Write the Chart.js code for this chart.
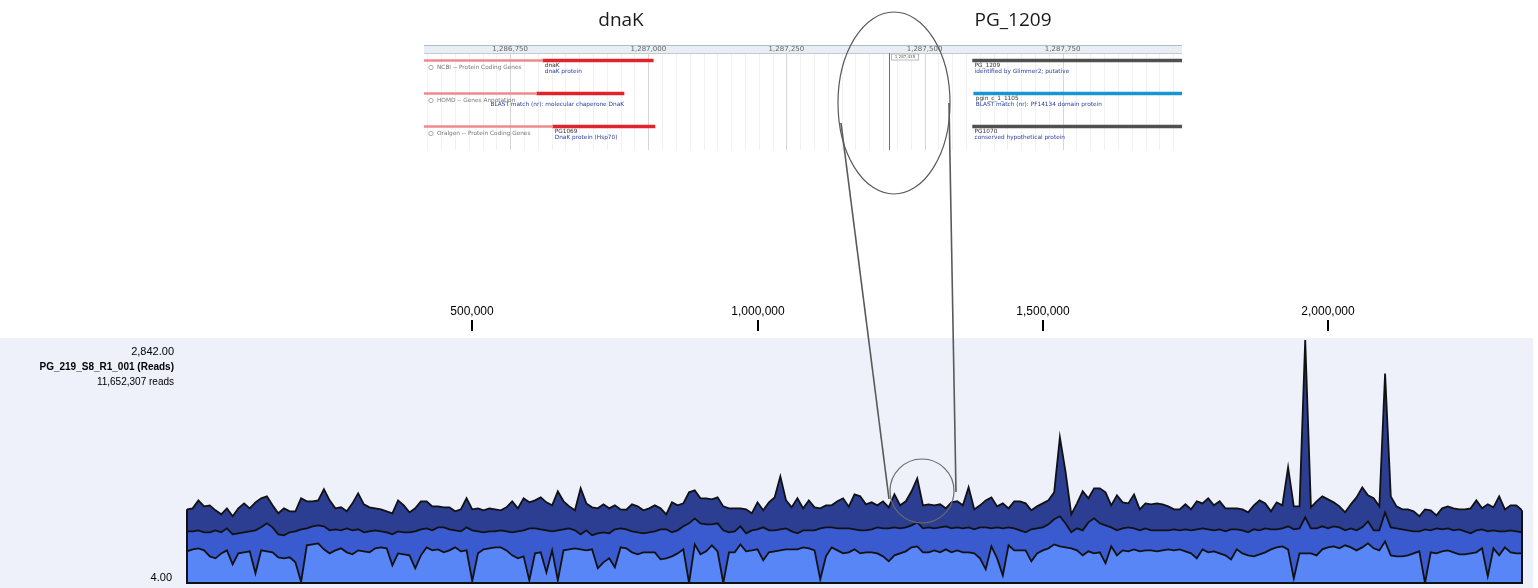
<!DOCTYPE html>
<html lang="en">

<head>
    <meta charset="UTF-8">
    <title>PG_219 coverage</title>
    <script src="https://cdn.jsdelivr.net/npm/chart.js"></script>
    <style>
        body { margin: 0; background: #fff; width: 1538px; height: 588px; overflow: hidden; position: relative; }
        #coverage { position: absolute; left: 0; top: 0; }
        #browser { position: absolute; left: 424px; top: 40px; }
        #zoomLines { position: absolute; left: 0; top: 0; pointer-events: none; }
    </style>
</head>

<body>
    <canvas id="coverage" width="1538" height="588"></canvas>
    <canvas id="browser" width="758" height="112"></canvas>
    <svg id="zoomLines" width="1538" height="588">
        <ellipse cx="894" cy="103" rx="56" ry="91" fill="none" stroke="#5a5a5a" stroke-width="1.2" />
        <circle cx="922" cy="491" r="32" fill="none" stroke="#6a6a6a" stroke-width="1.2" />
        <line x1="841" y1="123" x2="889" y2="499" stroke="#5a5a5a" stroke-width="1.6" />
        <line x1="949" y1="103" x2="956" y2="492" stroke="#5a5a5a" stroke-width="1.6" />
    </svg>
    <script>
        // coverage in 10 kb bins over the whole genome
        const BIN_SIZE = 10000;
        const GENOME_END = 2340000;
        const sampleName = 'PG_219_S8_R1_001 (Reads)';
        const totalReads = '11,652,307 reads';
        const yMax = 2842;
        const yMin = 4;
        const xTicks = [500000, 1000000, 1500000, 2000000];

        const maxReads = [
            864, 876, 969, 899, 911, 853, 806, 876, 783, 876, 934, 876, 946, 993, 1016, 911, 818, 876, 841, 841,
            993, 958, 958, 969, 1098, 969, 876, 888, 841, 934, 1051, 923, 888, 876, 864, 841, 818, 969, 911, 829,
            876, 958, 958, 899, 899, 888, 888, 841, 864, 993, 864, 876, 853, 876, 864, 853, 888, 958, 876, 993,
            946, 969, 1004, 946, 911, 1075, 958, 899, 853, 1110, 934, 888, 876, 923, 876, 911, 864, 860, 923, 899,
            853, 876, 911, 876, 806, 946, 911, 934, 1063, 1086, 993, 993, 981, 1004, 899, 876, 876, 876, 864, 818,
            946, 853, 946, 1004, 1250, 969, 888, 993, 876, 969, 888, 876, 911, 911, 958, 993, 895, 1039, 1016, 923,
            946, 911, 958, 888, 1039, 911, 958, 1075, 1226, 911, 923, 911, 923, 876, 946, 958, 911, 1121, 864, 911,
            969, 1004, 899, 934, 876, 958, 958, 934, 853, 899, 934, 969, 1063, 1705, 1300, 806, 934, 1075, 993, 1110,
            1110, 1063, 911, 1028, 946, 934, 1039, 864, 934, 923, 934, 923, 899, 864, 864, 923, 864, 958, 934, 993,
            911, 958, 876, 876, 876, 864, 829, 911, 969, 934, 841, 946, 911, 1355, 899, 899, 2842, 888, 958, 1016,
            981, 946, 899, 829, 923, 1004, 1121, 1028, 993, 899, 2450, 1016, 899, 864, 864, 841, 783, 864, 853, 794,
            876, 899, 876, 864, 864, 876, 969, 876, 923, 888, 1016, 864, 911, 911, 853
        ];
        const meanReads = [
            607, 607, 619, 596, 596, 619, 596, 642, 572, 584, 596, 607, 619, 654, 701, 654, 572, 561, 596, 607,
            631, 642, 666, 677, 666, 619, 631, 619, 642, 619, 631, 596, 607, 619, 607, 596, 572, 607, 596, 596,
            607, 631, 642, 619, 654, 654, 631, 619, 607, 654, 619, 607, 596, 607, 607, 619, 607, 596, 607, 619,
            642, 642, 631, 619, 607, 619, 631, 642, 619, 572, 619, 561, 584, 596, 584, 631, 642, 631, 607, 596,
            584, 596, 607, 631, 631, 596, 619, 666, 701, 759, 701, 689, 689, 701, 619, 596, 607, 666, 584, 619,
            631, 654, 619, 619, 631, 642, 607, 584, 619, 619, 619, 642, 654, 654, 642, 642, 642, 631, 619, 619,
            631, 654, 642, 642, 654, 642, 654, 677, 712, 642, 654, 642, 654, 666, 642, 654, 642, 654, 631, 654,
            654, 642, 654, 642, 654, 642, 619, 596, 631, 642, 654, 689, 748, 783, 700, 596, 642, 619, 712, 759,
            701, 677, 654, 619, 642, 654, 642, 619, 642, 619, 619, 619, 619, 631, 619, 631, 619, 631, 642, 631,
            619, 631, 607, 631, 631, 619, 596, 631, 619, 642, 631, 631, 642, 666, 631, 642, 771, 642, 642, 666,
            642, 666, 654, 619, 642, 619, 654, 724, 619, 619, 829, 654, 642, 631, 619, 607, 607, 631, 619, 642,
            631, 642, 619, 631, 607, 584, 619, 631, 607, 619, 607, 607, 619, 607, 596
        ];
        const minReads = [
            374, 397, 409, 385, 315, 292, 350, 385, 222, 350, 362, 374, 117, 385, 374, 362, 304, 292, 304, 245,
            16, 444, 455, 467, 397, 350, 385, 409, 362, 339, 385, 374, 362, 409, 420, 409, 210, 350, 339, 327,
            175, 327, 420, 385, 397, 362, 385, 420, 374, 385, 27, 350, 397, 409, 420, 420, 385, 327, 292, 315,
            35, 350, 362, 128, 385, 35, 385, 397, 409, 397, 385, 397, 175, 245, 292, 187, 420, 409, 362, 339,
            362, 362, 362, 280, 292, 315, 350, 397, 4, 455, 339, 374, 444, 374, 4, 362, 362, 455, 374, 385,
            397, 269, 362, 374, 385, 397, 397, 397, 420, 409, 385, 47, 315, 420, 385, 350, 362, 397, 350, 362,
            362, 350, 315, 257, 327, 350, 374, 420, 432, 362, 362, 385, 362, 397, 362, 385, 362, 362, 350, 292,
            164, 432, 292, 93, 444, 385, 385, 385, 257, 350, 385, 409, 455, 432, 420, 409, 385, 327, 374, 350,
            362, 234, 432, 327, 385, 374, 397, 374, 385, 385, 374, 385, 397, 385, 397, 374, 350, 292, 397, 362,
            374, 350, 327, 280, 397, 350, 327, 315, 339, 362, 397, 420, 432, 397, 58, 350, 350, 350, 327, 397,
            420, 432, 409, 444, 420, 385, 420, 467, 409, 385, 490, 327, 315, 315, 327, 350, 374, 4, 362, 350,
            374, 385, 362, 339, 339, 350, 362, 409, 82, 409, 327, 420, 362, 350, 350
        ];

        // genome browser view around the dnaK / PG_1209 boundary
        const VIEW_START = 1286594;
        const VIEW_END = 1287966;
        const rulerStep = 250;
        const gridStep = 25;
        const cursorPos = 1287435;
        const geneTitles = ['dnaK', 'PG_1209'];
        const tracks = ['NCBI -- Protein Coding Genes', 'HOMD -- Genes Annotation', 'Oralgen -- Protein Coding Genes'];
        const featureTrack = [0, 1, 2, 0, 1, 2];
        const featureGene = ['dnaK', 'dnaK', 'dnaK', 'PG_1209', 'PG_1209', 'PG_1209'];
        const featureStart = [1286809, 1286798, 1286827, 1287587, 1287589, 1287587];
        const featureEnd = [1287009, 1286956, 1287012, 1287966, 1287966, 1287966];
        const featureName = ['dnaK', '', 'PG1069', 'PG_1209', 'pgin_c_1_1105', 'PG1070'];
        const featureNote = ['dnaK protein', 'BLAST match (nr): molecular chaperone DnaK', 'DnaK protein (Hsp70)',
            'identified by Glimmer2; putative', 'BLAST match (nr): PF14134 domain protein', 'conserved hypothetical protein'];

        const binPos = maxReads.map((v, i) => i * BIN_SIZE);

        function series(values, color, order) {
            return {
                data: values.map((v, i) => ({ x: binPos[i], y: v })),
                backgroundColor: color,
                borderColor: '#111',
                borderWidth: 1.8,
                fill: 'start',
                pointRadius: 0,
                tension: 0,
                order: order
            };
        }

        const panelBackground = {
            id: 'panelBackground',
            beforeDraw(chart) {
                const ctx = chart.ctx;
                ctx.save();
                ctx.fillStyle = '#eef0fa';
                ctx.fillRect(0, 338, 1533, 250);
                ctx.restore();
            }
        };

        const panelFrame = {
            id: 'panelFrame',
            afterDatasetsDraw(chart) {
                const { ctx, scales: { x, y } } = chart;
                const x0 = x.getPixelForValue(0);
                const x1 = x.getPixelForValue(GENOME_END);
                const yb = y.getPixelForValue(yMin);
                ctx.save();
                ctx.strokeStyle = '#111';
                ctx.lineWidth = 2;
                ctx.beginPath();
                ctx.moveTo(x0, y.getPixelForValue(maxReads[0]));
                ctx.lineTo(x0, yb);
                ctx.lineTo(x1, yb);
                ctx.lineTo(x1, y.getPixelForValue(maxReads[maxReads.length - 1]));
                ctx.stroke();
                ctx.restore();
            }
        };

        const panelText = {
            id: 'panelText',
            afterDraw(chart) {
                const { ctx, scales: { x, y } } = chart;
                ctx.save();
                ctx.fillStyle = '#000';
                ctx.strokeStyle = '#000';
                ctx.lineWidth = 2;
                ctx.textAlign = 'center';
                ctx.textBaseline = 'middle';
                ctx.font = '12px "Liberation Sans", Arial, sans-serif';
                xTicks.forEach(v => {
                    const px = Math.round(x.getPixelForValue(v));
                    ctx.fillText(v.toLocaleString('en-US'), px, 312);
                    ctx.beginPath();
                    ctx.moveTo(px, 320);
                    ctx.lineTo(px, 331);
                    ctx.stroke();
                });

                const top = y.getPixelForValue(yMax);
                ctx.textAlign = 'right';
                ctx.font = '11px "Liberation Sans", Arial, sans-serif';
                ctx.fillText(yMax.toLocaleString('en-US', { minimumFractionDigits: 2 }), 174, top + 12);
                ctx.font = 'bold 10px "Liberation Sans", Arial, sans-serif';
                ctx.fillText(sampleName, 174, top + 27);
                ctx.font = '10px "Liberation Sans", Arial, sans-serif';
                ctx.fillText(totalReads, 174, top + 42);
                ctx.font = '11px "Liberation Sans", Arial, sans-serif';
                ctx.fillText(yMin.toFixed(2), 172, y.getPixelForValue(yMin) - 5);

                // gene names above the browser view
                ctx.textAlign = 'center';
                ctx.font = '19px "Open Sans", sans-serif';
                ctx.fillStyle = '#1a1a1a';
                ctx.fillText(geneTitles[0], 621, 21);
                ctx.fillText(geneTitles[1], 1013, 21);
                ctx.restore();
            }
        };

        new Chart(document.getElementById('coverage'), {
            type: 'line',
            data: {
                datasets: [
                    series(maxReads, '#2b3e91', 3),
                    series(meanReads, '#3a5bd0', 2),
                    series(minReads, '#5886f6', 1)
                ]
            },
            options: {
                responsive: false,
                animation: false,
                layout: { padding: { left: 187, right: 16, top: 340, bottom: 5 } },
                scales: {
                    x: { type: 'linear', min: 0, max: GENOME_END, display: false },
                    y: { min: yMin, max: yMax, display: false }
                },
                plugins: {
                    legend: { display: false },
                    tooltip: { enabled: false }
                }
            },
            plugins: [panelBackground, panelFrame, panelText]
        });

        // browser inset
        const geneColor = { dnaK: '#e1242c', PG_1209: '#505050' };
        const featureColor = featureGene.map((g, i) => (g === 'PG_1209' && featureTrack[i] === 1) ? '#1a95d4' : geneColor[g]);

        const browserDecor = {
            id: 'browserDecor',
            beforeDatasetsDraw(chart) {
                const { ctx, scales: { x } } = chart;
                ctx.save();
                // grid
                for (let v = Math.ceil(VIEW_START / gridStep) * gridStep; v <= VIEW_END; v += gridStep) {
                    const px = Math.round(x.getPixelForValue(v)) + 0.5;
                    ctx.strokeStyle = v % rulerStep === 0 ? '#d6d6d6' : '#f1f1f1';
                    ctx.lineWidth = 1;
                    ctx.beginPath();
                    ctx.moveTo(px, 13);
                    ctx.lineTo(px, 110);
                    ctx.stroke();
                }
                // ruler band
                ctx.fillStyle = '#e8eef4';
                ctx.fillRect(0, 5, chart.width, 8);
                ctx.strokeStyle = '#a8bfd2';
                ctx.beginPath();
                ctx.moveTo(0, 5.5);
                ctx.lineTo(chart.width, 5.5);
                ctx.stroke();
                ctx.strokeStyle = '#c3cbd2';
                ctx.beginPath();
                ctx.moveTo(0, 13.5);
                ctx.lineTo(chart.width, 13.5);
                ctx.stroke();
                ctx.fillStyle = '#666';
                ctx.font = '7px "DejaVu Sans", sans-serif';
                ctx.textAlign = 'center';
                ctx.textBaseline = 'middle';
                for (let v = Math.ceil(VIEW_START / rulerStep) * rulerStep; v <= VIEW_END; v += rulerStep) {
                    ctx.fillText(v.toLocaleString('en-US'), x.getPixelForValue(v), 9.5);
                }
                // cursor
                const cx = Math.round(x.getPixelForValue(cursorPos)) + 0.5;
                ctx.strokeStyle = '#c0504d';
                ctx.beginPath();
                ctx.moveTo(cx, 13);
                ctx.lineTo(cx, 110);
                ctx.stroke();
                ctx.fillStyle = '#fff';
                ctx.strokeStyle = '#bbb';
                ctx.fillRect(cx + 2, 14, 27, 6);
                ctx.strokeRect(cx + 2, 14, 27, 6);
                ctx.fillStyle = '#555';
                ctx.font = '4px "DejaVu Sans", sans-serif';
                ctx.fillText(cursorPos.toLocaleString('en-US'), cx + 15.5, 17.2);
                ctx.restore();
            },
            afterDatasetsDraw(chart) {
                const { ctx, scales: { x, y } } = chart;
                ctx.save();
                ctx.font = '5.8px "DejaVu Sans", sans-serif';
                ctx.textBaseline = 'top';
                tracks.forEach((t, i) => {
                    const cy = y.getPixelForValue(i);
                    ctx.strokeStyle = '#aaa';
                    ctx.beginPath();
                    ctx.arc(7, cy + 7, 2.2, 0, Math.PI * 2);
                    ctx.stroke();
                    ctx.fillStyle = '#777';
                    ctx.fillText(t, 13, cy + 4);
                });
                featureStart.forEach((s, i) => {
                    const cy = y.getPixelForValue(featureTrack[i]);
                    const left = x.getPixelForValue(s);
                    const right = x.getPixelForValue(featureEnd[i]);
                    const w = ctx.measureText(featureNote[i]).width;
                    const tx = left + w > right ? right - w : left + 2;
                    ctx.fillStyle = '#333';
                    ctx.fillText(featureName[i], tx, cy + 2);
                    ctx.fillStyle = '#2b3fa0';
                    ctx.fillText(featureNote[i], tx, cy + 8);
                });
                ctx.restore();
            }
        };

        new Chart(document.getElementById('browser'), {
            type: 'bar',
            data: {
                labels: tracks.map((t, i) => i),
                datasets: [
                    {
                        // part of the dnaK genes running past the view start
                        data: featureStart.filter((s, i) => featureGene[i] === 'dnaK')
                            .map((s, i) => ({ y: featureTrack[i], x: [VIEW_START, s] })),
                        backgroundColor: '#ef8a8d',
                        barThickness: 2,
                        grouped: false
                    },
                    {
                        data: featureStart.map((s, i) => ({ y: featureTrack[i], x: [s, featureEnd[i]] })),
                        backgroundColor: featureColor,
                        barThickness: 3,
                        grouped: false
                    }
                ]
            },
            options: {
                indexAxis: 'y',
                responsive: false,
                animation: false,
                layout: { padding: { top: 4, bottom: 9, left: 0, right: 0 } },
                scales: {
                    x: { type: 'linear', min: VIEW_START, max: VIEW_END, display: false },
                    y: { type: 'category', display: false }
                },
                plugins: {
                    legend: { display: false },
                    tooltip: { enabled: false }
                }
            },
            plugins: [browserDecor]
        });
    </script>
</body>

</html>
